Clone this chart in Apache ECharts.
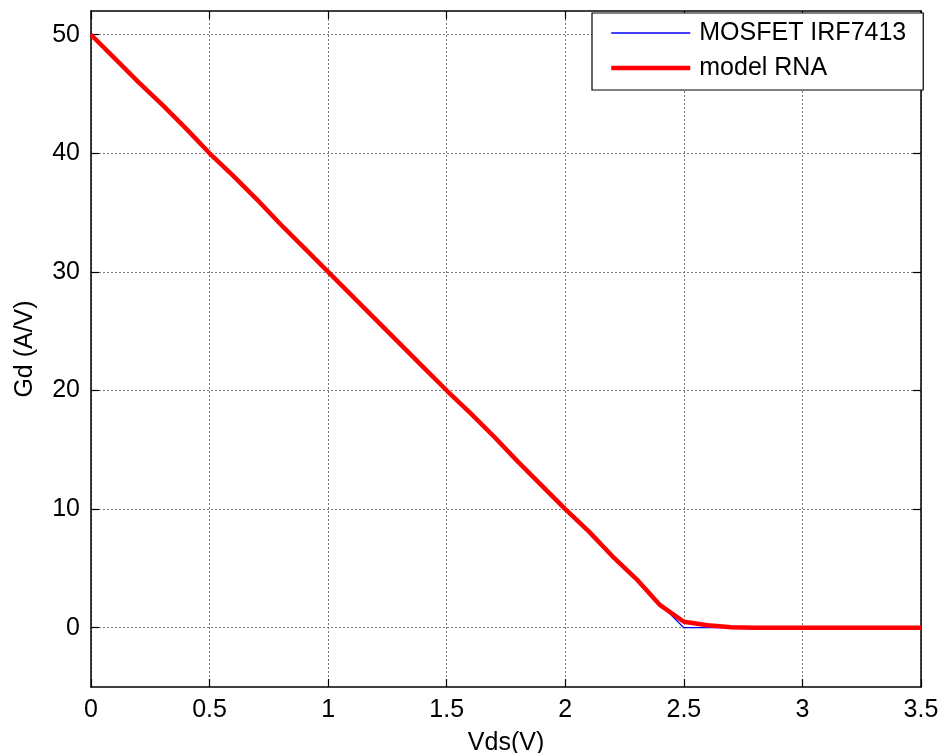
<!DOCTYPE html>
<html>
<head>
<meta charset="utf-8">
<script src="https://cdn.jsdelivr.net/npm/echarts@6/dist/echarts.min.js"></script>
<style>
  html, body { margin: 0; padding: 0; background: #fff; }
  #chart { width: 940px; height: 753px; }
</style>
</head>
<body>
<div id="chart"></div>
<script>
// Drain-source voltage samples (V)
const vds = [0, 0.1, 0.2, 0.3, 0.4, 0.5, 0.6, 0.7, 0.8, 0.9,
             1.0, 1.1, 1.2, 1.3, 1.4, 1.5, 1.6, 1.7, 1.8, 1.9,
             2.0, 2.1, 2.2, 2.3, 2.4, 2.5, 2.6, 2.7, 2.8, 2.9,
             3.0, 3.1, 3.2, 3.3, 3.4, 3.5];

// Measured conductance of the MOSFET IRF7413 (A/V)
const gdMosfet = [50, 48, 46, 44.1, 42.1, 40, 38.1, 36.1, 34, 32,
                  30, 28, 26, 24, 22, 20, 18.1, 16.1, 14, 12,
                  10, 8.1, 6, 4.1, 2.0, 0, 0, 0, 0, 0,
                  0, 0, 0, 0, 0, 0];

// Conductance predicted by the neural-network model (A/V)
const gdModel = [50, 48, 46, 44.1, 42.1, 40, 38.1, 36.1, 34, 32,
                 30, 28, 26, 24, 22, 20, 18.1, 16.1, 14, 12,
                 10, 8.1, 6, 4.1, 1.9, 0.5, 0.2, 0.03, 0, 0,
                 0, 0, 0, 0, 0, 0];

const yTicks = [0, 10, 20, 30, 40, 50];
const seriesNames = ['MOSFET IRF7413', 'model RNA'];

const FONT = '"Liberation Sans", Arial, sans-serif';
const FS = 25;

const gridLine = { show: true, lineStyle: { color: '#7a7a7a', width: 1, type: [2, 2] } };
const axisLineBlack = { show: true, onZero: false, lineStyle: { color: '#000', width: 1.5 } };
const tickIn = { color: '#000', width: 1.2 };

const chart = echarts.init(document.getElementById('chart'), null, { renderer: 'canvas' });

chart.setOption({
  animation: false,
  backgroundColor: '#fff',
  grid: { left: 91, right: 19, top: 11, bottom: 66, containLabel: false, outerBoundsMode: 'none' },
  legend: {
    orient: 'vertical',
    left: 592,
    top: 13,
    padding: [7, 17, 9, 17],
    itemGap: 9,
    itemWidth: 79,
    itemHeight: 14,
    data: [
      { name: seriesNames[0], lineStyle: { width: 1.5 }, itemStyle: { opacity: 0 } },
      { name: seriesNames[1], lineStyle: { width: 4.5 }, itemStyle: { opacity: 0 } }
    ],
    backgroundColor: '#fff',
    borderColor: '#000',
    borderWidth: 1.2,
    borderRadius: 0,
    textStyle: { fontFamily: FONT, fontSize: FS, color: '#000', lineHeight: 26, padding: [0, 0, 0, 4] }
  },
  xAxis: [
    {
      type: 'value',
      min: 0, max: 3.5, interval: 0.5,
      position: 'bottom',
      name: 'Vds(V)',
      nameLocation: 'middle',
      nameGap: 44,
      nameTextStyle: { fontFamily: FONT, fontSize: FS, color: '#000' },
      axisLine: axisLineBlack,
      axisTick: { show: true, inside: true, length: 8, lineStyle: tickIn },
      axisLabel: { fontFamily: FONT, fontSize: FS, color: '#000', margin: 11 },
      splitLine: gridLine
    },
    {
      type: 'value',
      min: 0, max: 3.5, interval: 0.5,
      position: 'top',
      axisLine: axisLineBlack,
      axisTick: { show: true, inside: true, length: 8, lineStyle: tickIn },
      axisLabel: { show: false },
      splitLine: { show: false }
    }
  ],
  yAxis: [
    {
      type: 'value',
      min: -5, max: 52,
      position: 'left',
      name: 'Gd (A/V)',
      nameLocation: 'middle',
      nameGap: 53,
      nameTextStyle: { fontFamily: FONT, fontSize: FS, color: '#000' },
      axisLine: axisLineBlack,
      axisTick: { show: true, inside: true, length: 8, customValues: yTicks, lineStyle: tickIn },
      axisLabel: { fontFamily: FONT, fontSize: FS, color: '#000', margin: 11, customValues: yTicks },
      splitLine: gridLine
    },
    {
      type: 'value',
      min: -5, max: 52,
      position: 'right',
      axisLine: axisLineBlack,
      axisTick: { show: true, inside: true, length: 8, customValues: yTicks, lineStyle: tickIn },
      axisLabel: { show: false, customValues: yTicks },
      splitLine: { show: false }
    }
  ],
  series: [
    {
      name: seriesNames[0],
      type: 'line',
      xAxisIndex: 0, yAxisIndex: 0,
      data: vds.map((x, i) => [x, gdMosfet[i]]),
      symbol: 'none',
      color: '#0000ff',
      lineStyle: { color: '#0000ff', width: 1.2 },
      z: 2
    },
    {
      name: seriesNames[1],
      type: 'line',
      xAxisIndex: 0, yAxisIndex: 0,
      data: vds.map((x, i) => [x, gdModel[i]]),
      symbol: 'none',
      color: '#ff0000',
      lineStyle: { color: '#ff0000', width: 4.5 },
      z: 3
    }
  ]
});
</script>
</body>
</html>
